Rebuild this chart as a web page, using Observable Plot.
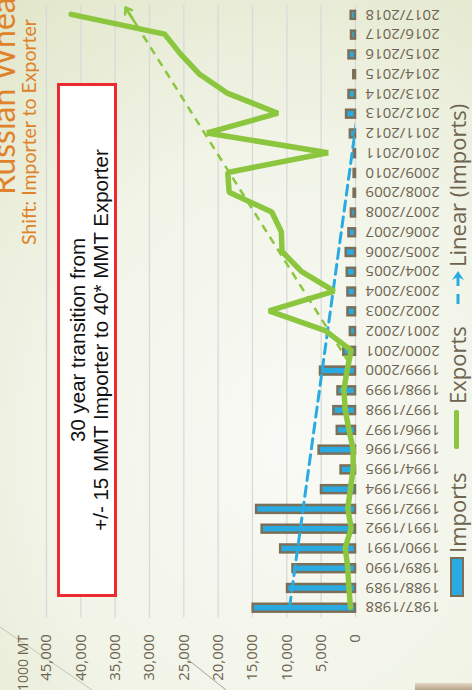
<!DOCTYPE html>
<html>
<head>
<meta charset="utf-8">
<script src="https://cdn.jsdelivr.net/npm/d3@7"></script>
<script src="https://cdn.jsdelivr.net/npm/@observablehq/plot@0.6"></script>
<style>
  html, body { margin: 0; padding: 0; width: 472px; height: 690px; overflow: hidden; background: #eef1e2; }
  #frame {
    position: absolute; left: 0; top: 0; width: 690px; height: 472px;
    transform-origin: 0 0; transform: translate(0, 690px) rotate(-90deg);
    overflow: hidden;
    background: radial-gradient(ellipse 80% 95% at 35% 60%, #f9faf5 0%, #f1f4e7 55%, #e2e7cb 100%);
    font-family: "Open Sans", sans-serif;
  }
  #chart { position: absolute; left: 0; top: 0; }
  .title { position: absolute; color: #e0822a; white-space: nowrap; font-family: Lato, sans-serif; line-height: 1.2; }
  #t1 { left: 495px; top: -16px; font-size: 32px; }
  #t2 { left: 445px; top: 17px; font-size: 19.5px; }
  #unit { position: absolute; right: 635px; top: 13px; font-size: 14px; color: #6d6350; white-space: nowrap; }
  #note {
    position: absolute; left: 93px; top: 57px; width: 508px; height: 50px;
    background: #fff; border: 3px solid #ec2a30;
    font-family: "Liberation Sans", Arial, sans-serif; font-size: 20.5px; color: #111;
    text-align: center; line-height: 23px; display: flex; flex-direction: column; justify-content: center;
    padding-top: 4px; box-sizing: content-box;
  }
  .leg { position: absolute; font-size: 22px; color: #6d6350; white-space: nowrap; line-height: 1; }
  .sw { position: absolute; }
  #deco { position: absolute; left: 0; top: 0; }
  #photo { position: absolute; left: 0; top: 415px; width: 7px; height: 60px; background: linear-gradient(90deg, #b9a486, #e3d6c3); }
</style>
</head>
<body>
<div id="frame">
  <svg id="deco" width="690" height="472">
    <line x1="63" y1="0" x2="0" y2="92" stroke="#b8bba6" stroke-width="0.8"/>
    <line x1="32" y1="186" x2="0" y2="226" stroke="#8d8f7e" stroke-width="0.8"/>
  </svg>
  <div class="title" id="t1">Russian Wheat Situation</div>
  <div class="title" id="t2">Shift: Importer to Exporter</div>
  <div id="unit">1000 MT</div>
  <div id="chart"></div>
  <div id="note"><div>30 year transition from</div><div>+/- 15 MMT Importer to 40* MMT Exporter</div></div>
  <div class="sw" style="left:93px; top:450px; width:36px; height:10px; background:#29abe2; border:2.5px solid #7b6f58;"></div>
  <div class="leg" style="left:137px; top:446px;">Imports</div>
  <div class="sw" style="left:241px; top:454px; width:39px; height:5px; background:#8cc63f; border-radius:2px;"></div>
  <div class="leg" style="left:286px; top:446px;">Exports</div>
  <svg class="sw" style="left:384px; top:448px;" width="38" height="20">
    <line x1="2" y1="10" x2="12" y2="10" stroke="#29abe2" stroke-width="3"/>
    <line x1="20" y1="10" x2="32" y2="10" stroke="#29abe2" stroke-width="3"/>
    <path d="M26,4 L35,10 L26,16 L29,10 Z" fill="#29abe2"/>
  </svg>
  <div class="leg" style="left:423px; top:446px;">Linear (Imports)</div>
  <div id="photo"></div>
</div>
<script>
// Marketing years (category axis)
const seasons = [
  "1987/1988","1988/1989","1989/1990","1990/1991","1991/1992","1992/1993","1993/1994",
  "1994/1995","1995/1996","1996/1997","1997/1998","1998/1999","1999/2000","2000/2001",
  "2001/2002","2002/2003","2003/2004","2004/2005","2005/2006","2006/2007","2007/2008",
  "2008/2009","2009/2010","2010/2011","2011/2012","2012/2013","2013/2014","2014/2015",
  "2015/2016","2016/2017","2017/2018"
];
// Imports, 1000 MT
const imports = [
  14900, 9900, 9100, 10900, 13600, 14400, 4950,
  2100, 5300, 2650, 3150, 2550, 5100, 1700,
  750, 1100, 1100, 1200, 1350, 950, 600,
  200, 200, 200, 750, 1300, 950, 250,
  950, 580, 630
];
// Exports, 1000 MT
const exportsVals = [
  730, 970, 1120, 1500, 630, 1120, 730,
  340, 340, 970, 1500, 1700, 1210, 630,
  4400, 12600, 3100, 7900, 10700, 10800, 12200,
  18400, 18600, 4000, 21600, 11300, 18600, 22800,
  25500, 27800, 41400
];
// Value axis ticks
const valueTicks = [0, 5000, 10000, 15000, 20000, 25000, 30000, 35000, 40000, 45000];
// Hand-drawn green dashed trend arrow (category index, value)
const arrowStart = [12.4, 1000];
const arrowEnd = [30.35, 33500];

const rows = seasons.map((season, i) => ({i, season, imports: imports[i], exports: exportsVals[i]}));
const seg = [{x1: arrowStart[0], y1: arrowStart[1], x2: arrowEnd[0], y2: arrowEnd[1]}];
const t = 0.95;
const head = [{
  x1: arrowStart[0] + t * (arrowEnd[0] - arrowStart[0]),
  y1: arrowStart[1] + t * (arrowEnd[1] - arrowStart[1]),
  x2: arrowEnd[0], y2: arrowEnd[1]
}];

const chart = Plot.plot({
  width: 690,
  height: 472,
  marginLeft: 72.4,
  marginRight: 5,
  marginTop: 46,
  marginBottom: 117,
  style: {background: "transparent", fontFamily: "'Open Sans', sans-serif", fontSize: "15px", color: "#6d6350", overflow: "visible"},
  x: {type: "linear", domain: [-0.5, seasons.length - 0.5], axis: null},
  y: {domain: [0, 45000], axis: null},
  marks: [
    Plot.ruleY(valueTicks, {stroke: "#d9d9d9", strokeWidth: 1.3}),
    Plot.axisY({ticks: valueTicks, tickSize: 0, tickPadding: 17, tickFormat: d3.format(","), label: null, fontSize: 15}),
    Plot.axisX({ticks: rows.map(d => d.i), tickFormat: i => seasons[i], tickRotate: -90, tickSize: 0, tickPadding: 10, label: null, fontSize: 15}),
    Plot.rect(rows, {x1: d => d.i - 0.2, x2: d => d.i + 0.2, y1: 0, y2: "imports", fill: "#29abe2", stroke: "#7b6f58", strokeWidth: 2.5}),
    Plot.linearRegressionY(rows, {x: "i", y: "imports", stroke: "#29abe2", strokeWidth: 3, strokeDasharray: "10,6", ci: 0, clip: true}),
    Plot.line(rows, {x: "i", y: "exports", stroke: "#8cc63f", strokeWidth: 5.5, strokeLinejoin: "miter"}),
    Plot.link(seg, {x1: "x1", y1: "y1", x2: "x2", y2: "y2", stroke: "#8cc63f", strokeWidth: 2.5, strokeDasharray: "8,6"}),
    Plot.arrow(head, {x1: "x1", y1: "y1", x2: "x2", y2: "y2", stroke: "#8cc63f", strokeWidth: 2.5, headLength: 13, headAngle: 70})
  ]
});
document.getElementById("chart").appendChild(chart);
</script>
</body>
</html>
